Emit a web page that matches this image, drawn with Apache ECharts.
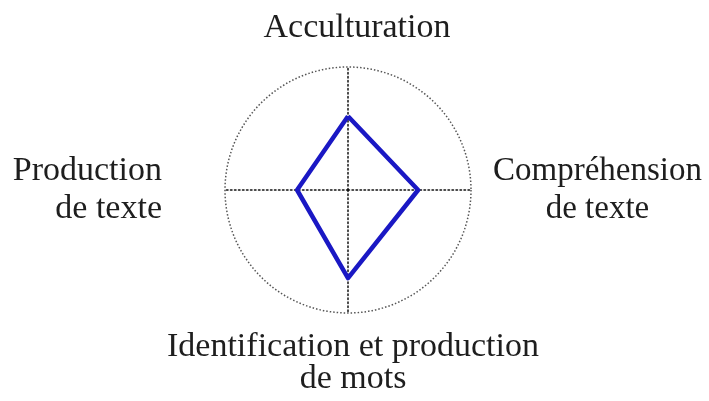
<!DOCTYPE html>
<html>
<head>
<meta charset="utf-8">
<script src="https://cdn.jsdelivr.net/npm/echarts@6/dist/echarts.min.js"></script>
<style>
  html, body { margin: 0; padding: 0; background: #fff; }
  #chart { width: 709px; height: 401px; }
</style>
</head>
<body>
<div id="chart"></div>
<script>
// indicators in ECharts order (counter-clockwise from the top)
const indicatorNames = [
  'Acculturation',
  'Production\nde texte',
  'Identification et production\nde mots',
  'Compréhension\nde texte'
]
const indicatorMax = [5, 5, 5, 5]
const scores = [3.0, 2.07, 3.58, 2.85]

// rich style key per indicator, so each label can sit like the original
const labelStyleKeys = ['top', 'left', 'bottom', 'right']

const chart = echarts.init(document.getElementById('chart'))

const baseText = {
  fontFamily: 'Liberation Serif',
  fontSize: 34,
  lineHeight: 38,
  color: '#1e1e1e'
}

chart.setOption({
  backgroundColor: '#fff',
  animation: false,
  radar: {
    center: [348, 190],
    radius: 123,
    shape: 'circle',
    splitNumber: 1,
    startAngle: 90,
    nameGap: 18,
    indicator: indicatorNames.map((name, i) => ({ name, max: indicatorMax[i] })),
    axisName: {
      formatter: (name) => {
        const key = labelStyleKeys[indicatorNames.indexOf(name)]
        return name.split('\n').map((line) => `{${key}|${line}}`).join('\n')
      },
      rich: {
        top: { ...baseText, align: 'center', padding: [0, 0, 4, 18] },
        left: { ...baseText, align: 'right', padding: [0, 45, 0, 0] },
        bottom: { ...baseText, align: 'center', lineHeight: 32, padding: [0, 0, 0, 10] },
        right: { ...baseText, fontSize: 33, align: 'center', padding: [0, 0, 0, 4] }
      }
    },
    axisLine: {
      lineStyle: { color: '#111', width: 1.5, type: [1.5, 2.5] }
    },
    splitLine: {
      lineStyle: { color: '#555', width: 1.5, type: [1.5, 2] }
    },
    splitArea: { show: false },
    axisTick: { show: false },
    axisLabel: { show: false }
  },
  series: [
    {
      type: 'radar',
      symbol: 'none',
      data: [
        {
          value: scores,
          lineStyle: { color: '#1a18c4', width: 4.5 }
        }
      ]
    }
  ]
})
</script>
</body>
</html>
